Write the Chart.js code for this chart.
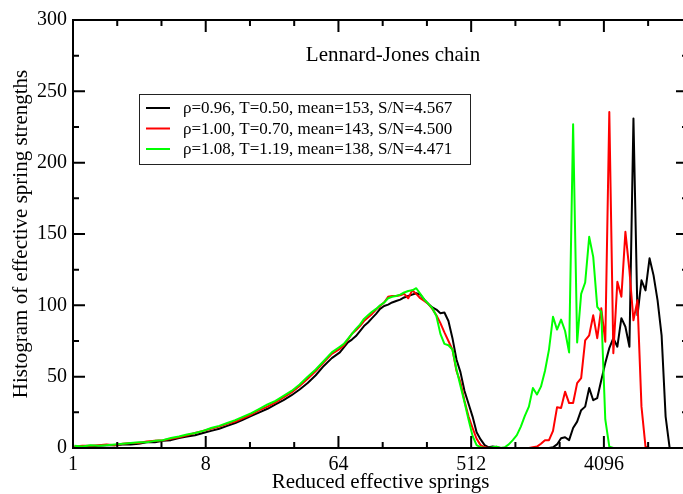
<!DOCTYPE html>
<html>
<head>
<meta charset="utf-8">
<script src="https://cdn.jsdelivr.net/npm/chart.js@4.4.1/dist/chart.umd.min.js"></script>
<style>
  html, body { margin: 0; padding: 0; overflow: hidden; background: #fff; }
</style>
</head>
<body>
<canvas id="springChart" width="700" height="494"></canvas>
<script>
// bin centres of the reduced effective springs (log-spaced)
const springBins = [1.022, 1.160, 1.315, 1.492, 1.692, 1.920, 2.177, 2.470, 2.802, 3.178, 3.605, 4.089, 4.638, 5.261, 5.968, 6.769, 7.678, 8.710, 9.880, 11.21, 12.71, 14.42, 16.36, 18.55, 21.05, 23.87, 27.08, 30.71, 34.84, 39.52, 44.83, 50.85, 57.67, 65.43,
  69.68, 74.21, 79.04, 84.18, 89.66, 95.48, 101.7, 108.3, 115.4, 122.9, 130.9, 139.4, 148.4, 158.1, 168.4, 179.3, 191.0, 203.4, 216.6, 230.7, 245.7, 261.7, 278.7, 296.9, 316.2, 336.7, 358.6, 381.9, 406.8, 433.2, 461.4, 491.4, 523.4, 557.4, 593.7, 632.3, 673.4, 717.3, 763.9, 813.6, 866.5, 922.8, 982.8, 1047, 1115, 1187, 1265, 1347, 1435, 1528, 1627, 1733, 1846, 1966, 2094, 2230, 2375, 2529, 2694, 2869, 3055, 3254, 3466, 3691, 3931, 4187, 4459, 4750, 5059, 5388, 5738, 6111, 6509, 6932, 7382, 7863, 8375, 8919, 9499, 10117, 10775, 11476, 12222, 13017, 13863, 14764];

const rho096 = [0.5, 1, 1, 1.5, 2, 2, 2.5, 2.5, 3, 4, 4, 5, 5.5, 7, 8, 9, 10.5, 12, 13.5, 15.5, 17.5, 20, 22.5, 25, 27.5, 30.5, 33.5, 37, 41, 45.5, 51, 57.5, 63, 67,
  70.5, 74, 76, 78.5, 82, 85.5, 88, 91, 94, 97.5, 99.5, 100.5, 102, 103, 104, 105.5, 106.5, 107.5, 108.5, 107.5, 104, 101, 98.5, 97, 94.5, 95, 89, 77, 62, 53, 40, 31, 22, 11, 6, 2, 0.5, 1, 0.5, 0, 0, 0, 0, 0, 0, 0, 0, 0, 0, 0, 0, 0, 0.5, 2.5, 6.8, 7.5, 5.5, 14, 18.5, 26.5, 29, 42, 33.5, 35, 47.5, 59.5, 70, 77, 71, 91, 85, 71, 231, 93, 117.5, 110.5, 133, 121, 103.5, 79, 22, 0, 0, 0, 0, 0];

const rho100 = [1, 1.5, 1.5, 2, 2.5, 2, 3, 3.5, 3.5, 4.5, 5, 5.5, 6.5, 7.5, 9, 10.5, 12, 13.5, 15, 17, 18.5, 21, 23.5, 26.5, 29, 32, 35.5, 39, 43.5, 48.5, 54, 60, 66, 69.5,
  72, 76, 80, 82.5, 85.5, 89, 91.5, 94, 97, 99.5, 102, 106, 106.5, 106.5, 107, 108, 105, 110.5, 108, 105, 103, 101, 97.5, 93, 87.5, 81, 75, 69, 54, 46, 33, 22, 14, 6.5, 2, 0.5, 0, 0, 0, 0, 0, 0, 0, 0, 0, 0, 0, 0.5, 1, 3, 5.5, 5.5, 12, 28.5, 28, 39.5, 31.5, 31.5, 45.5, 49, 75.5, 79, 93, 77, 98, 74.5, 235.5, 66.5, 116.5, 106, 151.5, 124.5, 89.5, 103.5, 29, 1, 0, 0, 0, 0, 0, 0, 0, 0, 0, 0];

const rho108 = [1.5, 1, 2, 1.5, 2, 2.5, 3, 3.5, 4, 4, 5, 5.5, 7, 8, 9.5, 10.5, 12, 14, 15.5, 17.5, 19.5, 22, 24.5, 27.5, 30.5, 33, 36.5, 40, 44.5, 50, 55, 61, 67, 71,
  73, 76.5, 80, 83.5, 86.5, 90.5, 93, 95.5, 97.5, 100, 102, 105, 106, 106.5, 107.5, 109, 110, 110.5, 112, 108, 104, 101, 98, 92.5, 80, 73, 72, 69, 55, 43.5, 32, 20, 8.5, 2, 0.5, 0, 0, 0.5, 1, 0, 0.5, 2.5, 5.5, 9, 15, 22.5, 29, 42, 37.5, 43, 54, 69, 92, 83, 90, 82, 67, 227, 74, 108, 116, 148, 134, 99, 95.5, 20, 1, 0, 0, 0, 0, 0, 0, 0, 0, 0, 0, 0, 0, 0, 0, 0, 0, 0, 0, 0];

const seriesLabels = [
  'ρ=0.96, T=0.50, mean=153, S/N=4.567',
  'ρ=1.00, T=0.70, mean=143, S/N=4.500',
  'ρ=1.08, T=1.19, mean=138, S/N=4.471'
];
const seriesColors = ['#000000', '#ff0000', '#00ff00'];

const xTickValues = [1, 2, 4, 8, 16, 32, 64, 128, 256, 512, 1024, 2048, 4096, 8192];
const xTickLabels = [1, 8, 64, 512, 4096];
const yTickValues = [0, 50, 100, 150, 200, 250, 300];

const SERIF = '"Liberation Serif", "Times New Roman", serif';

const toPoints = ys => springBins.map((x, i) => ({ x, y: ys[i] }));

// frame with inward ticks on all sides, inner title and boxed legend
const graceFrame = {
  id: 'graceFrame',
  afterDatasetsDraw(chart) {
    const { ctx, chartArea: a, scales: { x, y } } = chart;
    ctx.save();
    ctx.strokeStyle = '#000';
    ctx.lineWidth = 2;
    ctx.strokeRect(a.left, a.top, a.right - a.left, a.bottom - a.top);

    ctx.beginPath();
    xTickValues.forEach(v => {
      const px = x.getPixelForValue(v);
      const len = xTickLabels.includes(v) ? 12 : 6;
      ctx.moveTo(px, a.bottom); ctx.lineTo(px, a.bottom - len);
      ctx.moveTo(px, a.top); ctx.lineTo(px, a.top + len);
    });
    yTickValues.forEach(v => {
      const py = y.getPixelForValue(v);
      ctx.moveTo(a.left, py); ctx.lineTo(a.left + 12, py);
      ctx.moveTo(a.right, py); ctx.lineTo(a.right - 12, py);
      if (v < 300) {
        const pm = y.getPixelForValue(v + 25);
        ctx.moveTo(a.left, pm); ctx.lineTo(a.left + 6, pm);
        ctx.moveTo(a.right, pm); ctx.lineTo(a.right - 6, pm);
      }
    });
    ctx.stroke();

    ctx.fillStyle = '#000';
    ctx.font = '21px ' + SERIF;
    ctx.textAlign = 'center';
    ctx.textBaseline = 'middle';
    ctx.fillText('Lennard-Jones chain', 393, 55);

    // legend
    const bx = 139, by = 94, bw = 331, bh = 70;
    ctx.fillStyle = '#fff';
    ctx.fillRect(bx, by, bw, bh);
    ctx.lineWidth = 1;
    ctx.strokeStyle = '#222';
    ctx.strokeRect(bx + 0.5, by + 0.5, bw, bh);
    ctx.font = '17px ' + SERIF;
    ctx.textAlign = 'left';
    chart.data.datasets.forEach((ds, i) => {
      const ry = by + 14 + i * 20.5;
      ctx.strokeStyle = ds.borderColor;
      ctx.lineWidth = 2;
      ctx.beginPath();
      ctx.moveTo(bx + 7, ry);
      ctx.lineTo(bx + 31, ry);
      ctx.stroke();
      ctx.fillStyle = '#000';
      ctx.fillText(ds.label, bx + 44, ry + 1);
    });
    ctx.restore();
  }
};

const ctx = document.getElementById('springChart');
new Chart(ctx, {
  type: 'line',
  data: {
    datasets: [rho096, rho100, rho108].map((ys, i) => ({
      label: seriesLabels[i],
      data: toPoints(ys),
      borderColor: seriesColors[i],
      borderWidth: 2,
      borderJoinStyle: 'round',
      pointRadius: 0,
      tension: 0,
      fill: false,
      order: 3 - i
    }))
  },
  options: {
    responsive: false,
    animation: false,
    devicePixelRatio: 1,
    layout: { padding: { top: 20, right: 12, bottom: 0, left: 0 } },
    plugins: {
      legend: { display: false },
      tooltip: { enabled: false }
    },
    scales: {
      x: {
        type: 'logarithmic',
        min: 1,
        max: 15300,
        afterBuildTicks: s => { s.ticks = xTickValues.map(v => ({ value: v })); },
        afterFit: s => { s.height = 46; },
        grid: { display: false, drawTicks: false },
        border: { display: false },
        ticks: {
          autoSkip: false,
          maxRotation: 0,
          minRotation: 0,
          padding: 5,
          color: '#000',
          font: { family: SERIF, size: 20 },
          callback: v => xTickLabels.includes(v) ? String(v) : ''
        },
        title: {
          display: true,
          text: 'Reduced effective springs',
          color: '#000',
          font: { family: SERIF, size: 21, lineHeight: 1 },
          padding: { top: 0, bottom: 1.5 }
        }
      },
      y: {
        min: 0,
        max: 300,
        afterBuildTicks: s => { s.ticks = yTickValues.map(v => ({ value: v })); },
        afterFit: s => { s.width = 73; },
        grid: { display: false, drawTicks: false },
        border: { display: false },
        ticks: {
          padding: 6,
          color: '#000',
          font: { family: SERIF, size: 20 }
        },
        title: {
          display: true,
          text: 'Histogram of effective spring strengths',
          color: '#000',
          font: { family: SERIF, size: 21, lineHeight: 1 },
          padding: { top: 10.5, bottom: 0 }
        }
      }
    }
  },
  plugins: [graceFrame]
});
</script>
</body>
</html>
